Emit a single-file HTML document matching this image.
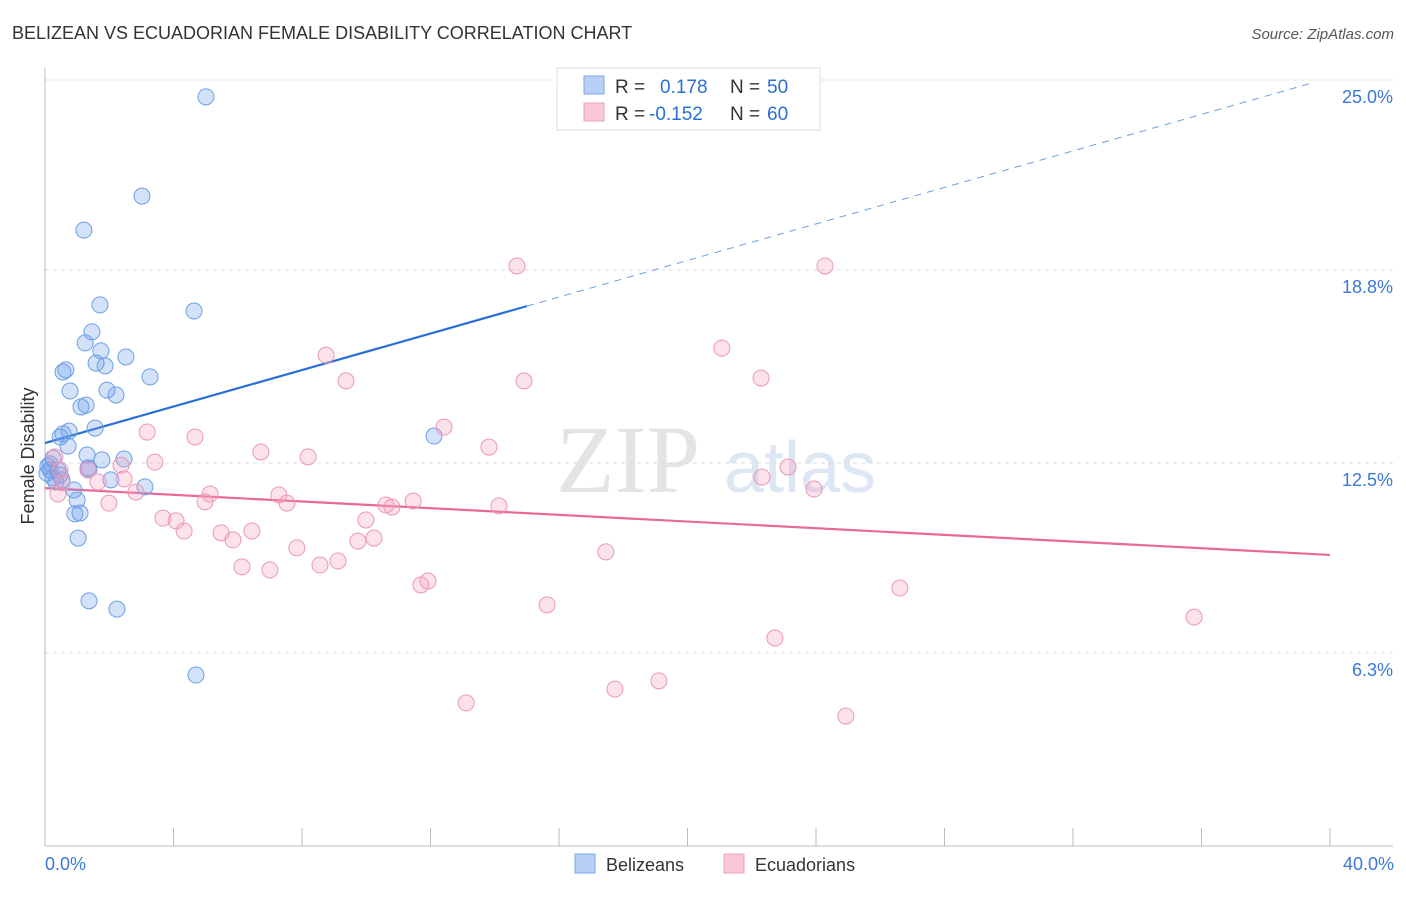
<!DOCTYPE html>
<html><head><meta charset="utf-8"><style>
body{margin:0;background:#fff;font-family:"Liberation Sans",sans-serif}
</style></head><body>
<svg id="chart" width="1406" height="892" xmlns="http://www.w3.org/2000/svg">
<text x="12" y="39" font-size="18" fill="#333">BELIZEAN VS ECUADORIAN FEMALE DISABILITY CORRELATION CHART</text>
<text x="1394" y="39" font-size="15" fill="#555" font-style="italic" text-anchor="end">Source: ZipAtlas.com</text>
<text x="628" y="492" font-size="96" fill="#e4e4e4" font-family="Liberation Serif" text-anchor="middle">ZIP</text>
<text x="800" y="492" font-size="72" fill="#dce6f4" text-anchor="middle">atlas</text>
<text x="34" y="456" font-size="18" fill="#333" text-anchor="middle" transform="rotate(-90 34 456)">Female Disability</text>
<g id="grid"></g><g id="axes"></g><g id="lines"></g><g id="pts"></g>
<g>
<rect x="557" y="68" width="263" height="62" fill="#fff" stroke="#ddd"/>
<rect x="584" y="76" width="20" height="18" fill="#b8d0f4" stroke="#7aa6e6"/>
<rect x="584" y="103" width="20" height="18" fill="#f8c8d8" stroke="#eea0bc"/>
<text x="615" y="93" font-size="19" fill="#333">R = <tspan x="660" fill="#2a6fd6">0.178</tspan><tspan x="730" fill="#333">N = </tspan><tspan x="767" fill="#2a6fd6">50</tspan></text>
<text x="615" y="120" font-size="19" fill="#333">R = <tspan x="649" fill="#2a6fd6">-0.152</tspan><tspan x="730" fill="#333">N = </tspan><tspan x="767" fill="#2a6fd6">60</tspan></text>
</g>
<g>
<rect x="575" y="854" width="20" height="19" fill="#b8d0f4" stroke="#7aa6e6"/>
<text x="606" y="871" font-size="18" fill="#333">Belizeans</text>
<rect x="724" y="854" width="20" height="19" fill="#f8c8d8" stroke="#eea0bc"/>
<text x="755" y="871" font-size="18" fill="#333">Ecuadorians</text>
</g>
<text x="45" y="870" font-size="18" fill="#3a78d8">0.0%</text>
<text x="1394" y="870" font-size="18" fill="#3a78d8" text-anchor="end">40.0%</text>
</svg>
<script>
const yTicks=[25.0,18.8,12.5,6.3];
const yTickLabels=["25.0%","18.8%","12.5%","6.3%"];
const xTicks=[0,4,8,12,16,20,24,28,32,36,40];
const belizeX=[5.01,3.02,1.21,1.71,4.64,1.46,1.25,1.74,2.52,1.59,1.87,0.65,0.56,3.27,0.78,1.93,2.21,1.28,1.12,1.56,0.75,0.56,0.47,0.72,12.11,1.31,1.77,2.46,0.25,0.16,0.09,1.37,0.16,0.47,2.05,0.34,3.11,0.90,1.00,0.93,1.09,1.03,1.37,2.24,4.70,0.25,0.06,0.40,1.34,0.53];
const belizeY=[24.45,21.21,20.10,17.66,17.46,16.78,16.42,16.16,15.96,15.76,15.67,15.54,15.47,15.31,14.85,14.88,14.72,14.39,14.33,13.64,13.54,13.45,13.35,13.05,13.38,12.76,12.60,12.63,12.66,12.47,12.40,12.30,12.27,12.11,11.95,11.88,11.72,11.62,11.29,10.84,10.87,10.05,8.00,7.73,5.58,12.01,12.17,12.27,12.34,11.95];
const ecuX=[14.69,24.28,8.75,21.07,9.37,14.91,22.29,3.18,4.67,12.42,13.82,6.72,8.19,3.42,2.37,0.31,1.34,2.46,0.47,0.53,23.13,22.32,23.94,5.14,7.28,1.65,2.83,0.40,1.99,4.98,7.53,10.61,11.46,10.80,14.13,3.67,4.08,9.99,4.33,5.48,6.44,5.85,10.24,9.74,7.84,17.46,9.12,8.56,6.13,7.00,11.92,11.70,26.61,15.63,35.77,22.72,19.11,17.74,13.11,24.93];
const ecuY=[18.93,18.93,16.02,16.25,15.18,15.18,15.27,13.51,13.35,13.67,13.02,12.86,12.70,12.53,12.43,12.70,12.27,11.98,12.27,11.85,12.37,12.04,11.65,11.49,11.46,11.88,11.55,11.49,11.19,11.23,11.19,11.13,11.26,11.06,11.10,10.70,10.61,10.64,10.28,10.22,10.28,9.99,10.05,9.95,9.73,9.60,9.30,9.17,9.11,9.01,8.65,8.52,8.42,7.87,7.47,6.79,5.39,5.12,4.67,4.24];
const belizeTrend=[13.15,0.298];
const ecuTrend=[11.68,-0.0545];
const NS="http://www.w3.org/2000/svg";
const sx=v=>45+v*32.125, sy=v=>846-v*30.64;
function mk(tag,attrs,parent){const e=document.createElementNS(NS,tag);for(const k in attrs)e.setAttribute(k,attrs[k]);document.getElementById(parent).appendChild(e);return e;}
yTicks.forEach((t,i)=>{
 const g=mk('line',{x1:45,x2:1393,y1:sy(t),y2:sy(t),stroke:'#ddd','stroke-dasharray':'4,4'},'grid');
 
 
 const l=mk('text',{x:1393,y:sy(t)+23,'font-size':18,fill:'#3a78d8','text-anchor':'end'},'grid');
 l.textContent=yTickLabels[i];
 
 
});
let a=mk('line',{x1:45,x2:45,y1:68,y2:846,stroke:'#bbb'},'axes');


a=mk('line',{x1:45,x2:1393,y1:846,y2:846,stroke:'#bbb'},'axes');


xTicks.forEach(t=>{const k=mk('line',{x1:sx(t),x2:sx(t),y1:828,y2:846,stroke:'#bbb'},'axes');
 
 });
function pts(X,Y,fill,stroke,name){X.forEach((x,i)=>{const c=mk('circle',{cx:sx(x),cy:sy(Y[i]),r:8,fill:fill,stroke:stroke,'stroke-width':1},'pts');
 
 });}
pts(belizeX,belizeY,'rgba(110,160,235,0.3)','#6d9fe4','belizean-point');
pts(ecuX,ecuY,'rgba(245,160,190,0.3)','#eb98b6','ecuadorian-point');
let L=mk('line',{x1:sx(0),y1:sy(belizeTrend[0]),x2:sx(15),y2:sy(belizeTrend[0]+belizeTrend[1]*15),stroke:'#2a6fd6','stroke-width':2.2},'lines');


L=mk('line',{x1:sx(15),y1:sy(belizeTrend[0]+belizeTrend[1]*15),x2:sx(39.4),y2:sy(belizeTrend[0]+belizeTrend[1]*39.4),stroke:'#6d9fe4','stroke-width':1,'stroke-dasharray':'7,6'},'lines');


L=mk('line',{x1:sx(0),y1:sy(ecuTrend[0]),x2:sx(40),y2:sy(ecuTrend[0]+ecuTrend[1]*40),stroke:'#e8689a','stroke-width':2.2},'lines');


</script>
</body></html>
